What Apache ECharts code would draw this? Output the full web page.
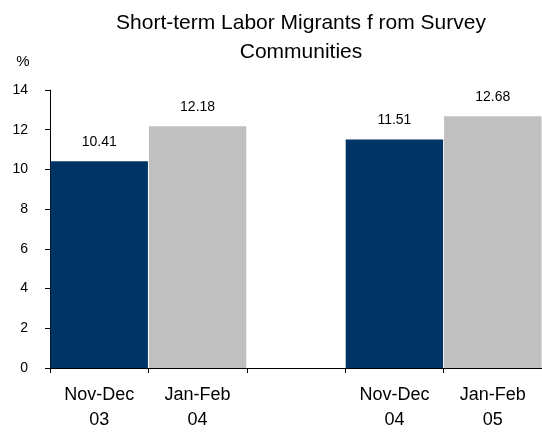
<!DOCTYPE html>
<html>
<head>
<meta charset="utf-8">
<script src="https://cdn.jsdelivr.net/npm/echarts@6/dist/echarts.min.js"></script>
<style>html,body{margin:0;padding:0;background:#fff;}#c{width:542px;height:433px;}</style>
</head>
<body>
<div id="c"></div>
<script>
var categories = ['Nov-Dec\n03', 'Jan-Feb\n04', '', 'Nov-Dec\n04', 'Jan-Feb\n05'];
var values = [10.41, 12.18, null, 11.51, 12.68];
var periods = ['Nov-Dec', 'Jan-Feb', '', 'Nov-Dec', 'Jan-Feb'];
var yTicks = [0, 2, 4, 6, 8, 10, 12, 14];
var periodColors = { 'Nov-Dec': '#003366', 'Jan-Feb': '#C0C0C0' };
var FONT = '"Liberation Sans", Arial, sans-serif';

var chart = echarts.init(document.getElementById('c'));
chart.setOption({
  animation: false,
  title: {
    text: 'Short-term Labor Migrants f rom Survey\nCommunities',
    left: 296, top: 4, textAlign: 'center',
    textStyle: { fontFamily: FONT, fontSize: 21, fontWeight: 'normal', color: '#000', lineHeight: 29 }
  },
  graphic: [{
    type: 'text', x: 23, y: 62,
    style: { text: '%', font: '15px ' + FONT, fill: '#000', textAlign: 'center', textVerticalAlign: 'middle' }
  }],
  grid: { left: 50, top: 90, width: 493, height: 284 },
  xAxis: {
    type: 'category', data: categories,
    axisLine: { lineStyle: { color: '#000', width: 1 } },
    axisTick: { show: true, length: 5, lineStyle: { color: '#000' } },
    axisLabel: { color: '#000', fontFamily: FONT, fontSize: 18, lineHeight: 25, margin: 15, interval: 0 }
  },
  yAxis: {
    type: 'value', min: yTicks[0], max: yTicks[yTicks.length - 1], interval: 2,
    axisLine: { show: true, lineStyle: { color: '#000', width: 1 } },
    axisTick: { show: true, length: 5, lineStyle: { color: '#000' } },
    splitLine: { show: false },
    axisLabel: { color: '#000', fontFamily: FONT, fontSize: 14, margin: 22 }
  },
  series: [{
    type: 'bar',
    barCategoryGap: '1%',
    data: values.map(function (v, i) {
      return { value: v, itemStyle: { color: periodColors[periods[i]] || '#fff' } };
    }),
    label: {
      show: true, position: 'top', distance: 12,
      color: '#000', fontFamily: FONT, fontSize: 14,
      formatter: function (p) { return p.value == null ? '' : p.value.toFixed(2); }
    }
  }]
});
</script>
</body>
</html>
